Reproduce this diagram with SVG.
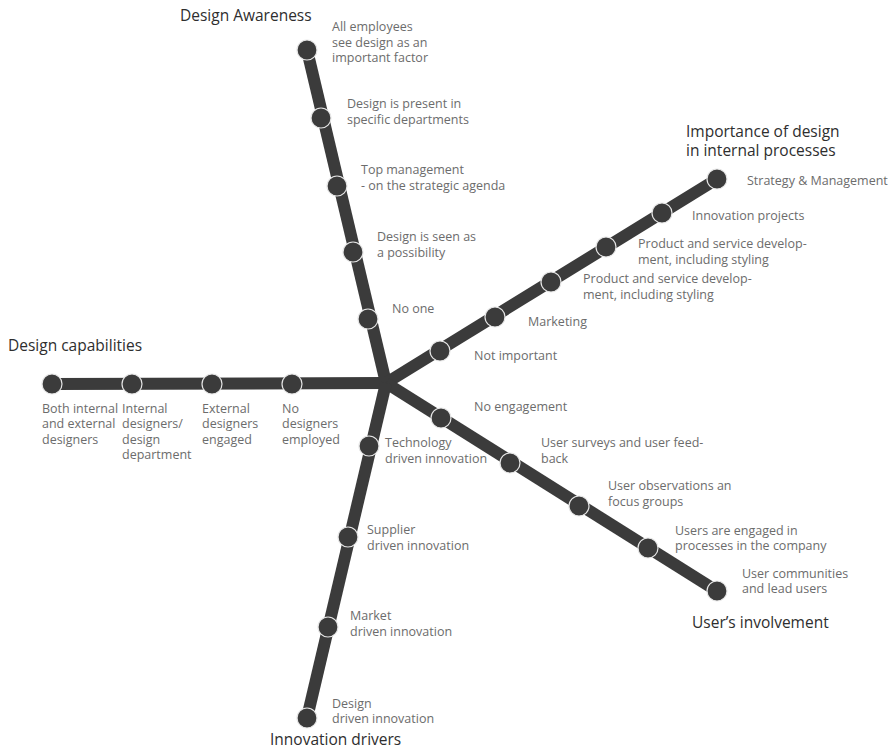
<svg xmlns="http://www.w3.org/2000/svg" width="892" height="750" viewBox="0 0 892 750">
  <style>
    .spoke { stroke: #3b3b3b; stroke-width: 12; stroke-linecap: butt; fill: none; }
    .stop { fill: #3b3b3b; stroke: #e6e6e6; stroke-width: 1.2; }
    .lbl { font-family: "Open Sans", "Noto Sans", "Liberation Sans", sans-serif; font-size: 12.5px; fill: #6c6c6c; }
    .ttl { font-family: "Open Sans", "Noto Sans", "Liberation Sans", sans-serif; font-size: 15.5px; fill: #2e2e2e; }
  </style>
  <rect width="892" height="750" fill="#ffffff"/>

  <!-- spokes radiating from the hub -->
  <g id="connectors">
    <line class="spoke" x1="386" y1="383" x2="307" y2="50"/>
    <line class="spoke" x1="386" y1="383" x2="717" y2="179"/>
    <line class="spoke" x1="386" y1="383" x2="52" y2="384"/>
    <line class="spoke" x1="386" y1="383" x2="717" y2="591"/>
    <line class="spoke" x1="386" y1="383" x2="307" y2="718"/>
  </g>

  <!-- Design Awareness -->
  <g id="design-awareness">
    <circle class="stop" cx="307" cy="50" r="10"/>
    <circle class="stop" cx="321" cy="118" r="10"/>
    <circle class="stop" cx="337" cy="186" r="10"/>
    <circle class="stop" cx="353" cy="252" r="10"/>
    <circle class="stop" cx="368" cy="319" r="10"/>
    <text class="ttl" x="180" y="21">Design Awareness</text>
    <text class="lbl" x="332" y="31">All employees</text>
    <text class="lbl" x="332" y="47">see design as an</text>
    <text class="lbl" x="332" y="62">important factor</text>
    <text class="lbl" x="347" y="108">Design is present in</text>
    <text class="lbl" x="347" y="124">specific departments</text>
    <text class="lbl" x="361" y="174">Top management</text>
    <text class="lbl" x="361" y="190">- on the strategic agenda</text>
    <text class="lbl" x="377" y="241">Design is seen as</text>
    <text class="lbl" x="377" y="257">a possibility</text>
    <text class="lbl" x="392" y="313">No one</text>
  </g>

  <!-- Importance of design in internal processes -->
  <g id="importance-of-design">
    <circle class="stop" cx="717" cy="179" r="10"/>
    <circle class="stop" cx="662" cy="213" r="10"/>
    <circle class="stop" cx="606" cy="247" r="10"/>
    <circle class="stop" cx="551" cy="282" r="10"/>
    <circle class="stop" cx="495" cy="317" r="10"/>
    <circle class="stop" cx="440" cy="351" r="10"/>
    <text class="ttl" x="686" y="137">Importance of design</text>
    <text class="ttl" x="686" y="156">in internal processes</text>
    <text class="lbl" x="747" y="185">Strategy &amp; Management</text>
    <text class="lbl" x="692" y="220">Innovation projects</text>
    <text class="lbl" x="638" y="248">Product and service develop-</text>
    <text class="lbl" x="638" y="264">ment, including styling</text>
    <text class="lbl" x="583" y="283">Product and service develop-</text>
    <text class="lbl" x="583" y="299">ment, including styling</text>
    <text class="lbl" x="528" y="326">Marketing</text>
    <text class="lbl" x="474" y="360">Not important</text>
  </g>

  <!-- Design capabilities -->
  <g id="design-capabilities">
    <circle class="stop" cx="52" cy="384" r="10"/>
    <circle class="stop" cx="132" cy="384" r="10"/>
    <circle class="stop" cx="212" cy="384" r="10"/>
    <circle class="stop" cx="292" cy="384" r="10"/>
    <text class="ttl" x="8" y="351">Design capabilities</text>
    <text class="lbl" x="42" y="413">Both internal</text>
    <text class="lbl" x="42" y="428">and external</text>
    <text class="lbl" x="42" y="444">designers</text>
    <text class="lbl" x="122" y="413">Internal</text>
    <text class="lbl" x="122" y="428">designers/</text>
    <text class="lbl" x="122" y="444">design</text>
    <text class="lbl" x="122" y="459">department</text>
    <text class="lbl" x="202" y="413">External</text>
    <text class="lbl" x="202" y="428">designers</text>
    <text class="lbl" x="202" y="444">engaged</text>
    <text class="lbl" x="282" y="413">No</text>
    <text class="lbl" x="282" y="428">designers</text>
    <text class="lbl" x="282" y="444">employed</text>
  </g>

  <!-- User's involvement -->
  <g id="users-involvement">
    <circle class="stop" cx="441" cy="418" r="10"/>
    <circle class="stop" cx="510" cy="463" r="10"/>
    <circle class="stop" cx="579" cy="506" r="10"/>
    <circle class="stop" cx="648" cy="548" r="10"/>
    <circle class="stop" cx="717" cy="591" r="10"/>
    <text class="lbl" x="474" y="411">No engagement</text>
    <text class="lbl" x="541" y="447">User surveys and user feed-</text>
    <text class="lbl" x="541" y="463">back</text>
    <text class="lbl" x="608" y="490">User observations an</text>
    <text class="lbl" x="608" y="506">focus groups</text>
    <text class="lbl" x="675" y="535">Users are engaged in</text>
    <text class="lbl" x="675" y="550">processes in the company</text>
    <text class="lbl" x="742" y="578">User communities</text>
    <text class="lbl" x="742" y="593">and lead users</text>
    <text class="ttl" x="692" y="628">User’s involvement</text>
  </g>

  <!-- Innovation drivers -->
  <g id="innovation-drivers">
    <circle class="stop" cx="369" cy="446" r="10"/>
    <circle class="stop" cx="348" cy="537" r="10"/>
    <circle class="stop" cx="328" cy="627" r="10"/>
    <circle class="stop" cx="307" cy="718" r="10"/>
    <text class="lbl" x="385" y="447">Technology</text>
    <text class="lbl" x="385" y="463">driven innovation</text>
    <text class="lbl" x="367" y="534">Supplier</text>
    <text class="lbl" x="367" y="550">driven innovation</text>
    <text class="lbl" x="350" y="620">Market</text>
    <text class="lbl" x="350" y="636">driven innovation</text>
    <text class="lbl" x="332" y="708">Design</text>
    <text class="lbl" x="332" y="723">driven innovation</text>
    <text class="ttl" x="270" y="745">Innovation drivers</text>
  </g>
</svg>
